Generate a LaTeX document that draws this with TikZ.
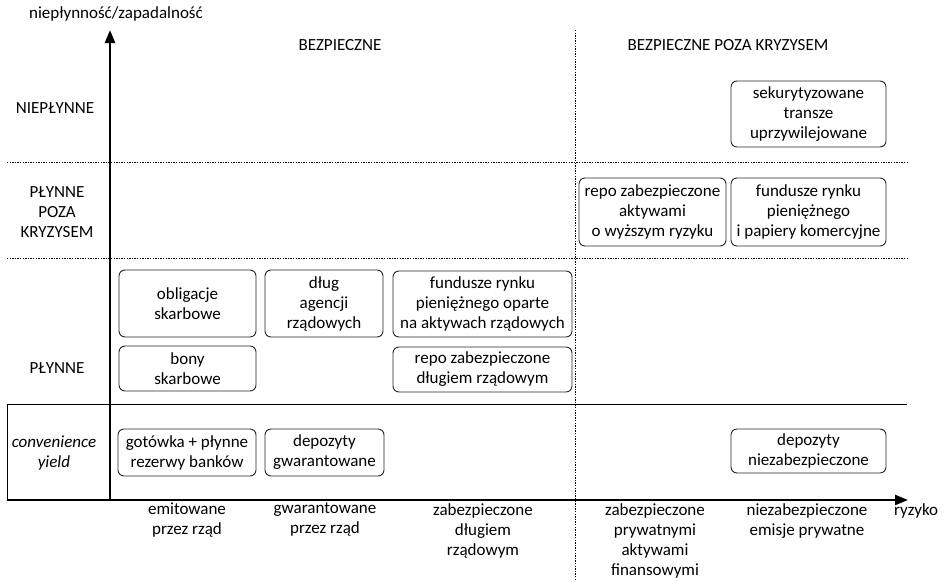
\documentclass[tikz,border=0pt]{standalone}
\usepackage{fontspec}
\setmainfont{Carlito}
\usetikzlibrary{arrows.meta}
\begin{document}
\begin{tikzpicture}[x=1pt,y=-1pt,
  every node/.style={font=\fontsize{17}{20}\selectfont, align=center, inner sep=0pt},
  asset/.style={draw=black!85, line width=0.9pt, rounded corners=6pt},
  axisline/.style={line width=2.4pt, -{Triangle[length=13pt,width=10pt]}},
  dotline/.style={line width=0.8pt, dash pattern=on 1.3pt off 1.3pt},
  plainline/.style={line width=1pt}]
\useasboundingbox (0,0) rectangle (947,581);
% coordinates
\coordinate (O) at (110,500);
\coordinate (Ytip) at (110,30);
\coordinate (Xleft) at (7,500);
\coordinate (Xtip) at (908,500);
\coordinate (H1l) at (7,162);
\coordinate (H1r) at (907,162);
\coordinate (H2l) at (7,258);
\coordinate (H2r) at (907,258);
\coordinate (H3l) at (7,404);
\coordinate (H3r) at (907,404);
\coordinate (Vt) at (575,30);
\coordinate (Vb) at (575,581);
% grid lines
\draw[dotline] (H1l) -- (H1r);
\draw[dotline] (H2l) -- (H2r);
\draw[dotline] (Vt) -- (Vb);
\draw[plainline] (H3l) -- (H3r);
\draw[plainline] (H3l) -- (Xleft);
% axes
\draw[axisline] (Xleft) -- (Xtip);
\draw[axisline] (O) -- (Ytip);
% axis titles
\node (ytitle) at (116,14) {niepłynność/zapadalność};
\node[anchor=west] (xtitle) at (894,511) {ryzyko};
% column headers
\node (c1) at (340,45) {BEZPIECZNE};
\node (c2) at (728,45) {BEZPIECZNE POZA KRYZYSEM};
% row labels
\node (r1) at (55,108) {NIEPŁYNNE};
\node (r2) at (57,212) {PŁYNNE\\POZA\\KRYZYSEM};
\node (r3) at (57,368) {PŁYNNE};
\node (r4) at (54,453) {\itshape convenience\\\itshape yield};
% x-axis labels
\node[anchor=north] (x1) at (187,503) {emitowane\\przez rząd};
\node[anchor=north] (x2) at (325,503) {gwarantowane\\przez rząd};
\node[anchor=north] (x3) at (483,503) {zabezpieczone\\długiem\\rządowym};
\node[anchor=north] (x4) at (655,503) {zabezpieczone\\prywatnymi\\aktywami\\finansowymi};
\node[anchor=north] (x5) at (807,503) {niezabezpieczone\\emisje prywatne};
% asset boxes
\node[asset, minimum width=137pt, minimum height=67pt] (obl) at (187.5,303.5) {obligacje\\skarbowe};
\node[asset, minimum width=137pt, minimum height=45pt] (bony) at (187.5,368.5) {bony\\skarbowe};
\node[asset, minimum width=118pt, minimum height=67pt] (agen) at (324,303.5) {dług\\agencji\\rządowych};
\node[asset, minimum width=179pt, minimum height=66pt] (fund) at (482.5,304) {fundusze rynku\\pieniężnego oparte\\na aktywach rządowych};
\node[asset, minimum width=179pt, minimum height=45pt] (repo) at (482.5,369.5) {repo zabezpieczone\\długiem rządowym};
\node[asset, minimum width=138pt, minimum height=47pt] (gotow) at (187,452.5) {gotówka + płynne\\rezerwy banków};
\node[asset, minimum width=119pt, minimum height=47pt] (depg) at (324.5,452.5) {depozyty\\gwarantowane};
\node[asset, minimum width=155pt, minimum height=66pt] (sek) at (808.5,114) {sekurytyzowane\\transze\\uprzywilejowane};
\node[asset, minimum width=147pt, minimum height=68pt] (repop) at (652.5,212) {repo zabezpieczone\\aktywami\\o wyższym ryzyku};
\node[asset, minimum width=155pt, minimum height=68pt] (fundp) at (808.5,212) {fundusze rynku\\pieniężnego\\i papiery komercyjne};
\node[asset, minimum width=155pt, minimum height=44pt] (depn) at (808.5,451) {depozyty\\niezabezpieczone};
\end{tikzpicture}
\end{document}
